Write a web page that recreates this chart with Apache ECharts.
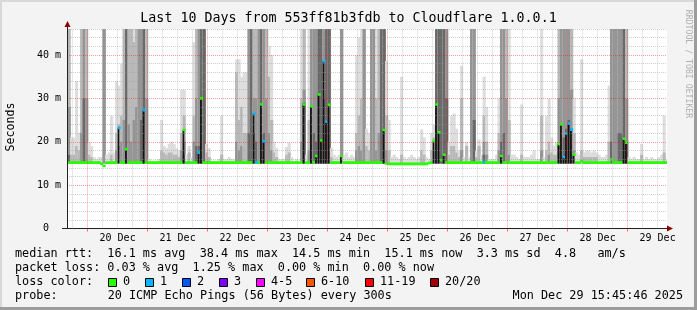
<!DOCTYPE html>
<html><head><meta charset="utf-8">
<script src="https://cdn.jsdelivr.net/npm/echarts@6/dist/echarts.min.js"></script>
<style>html,body{margin:0;padding:0;background:#f3f3f3}#c{width:697px;height:310px}</style>
</head><body><div id="c"></div><script>
// ---------- data (hourly buckets, hours counted from Dec 19 00:00) ----------
const F = 60; // ping above the top of the plot
const END_H = 255.763;            // Mon Dec 29 15:45:46
const START_H = END_H - 240;      // 10 days earlier
const FIRST_BUCKET_H = 16;
const SMOKE_FLOOR = 15.0;

const SMOKE_L = [
 F,21,21,34,22,F,F,F,20,19,
 16.5,16,16.5,16.5,F,17,17.5,26,17.5,34,
 33,38,F,F,F,F,F,F,F,F,
 F,F,16,0,0,0,16,25,19,18.5,
 19.5,20,19.5,18.5,18,32,32,17,19,16.5,
 43,F,F,F,F,19.5,18.5,0,0,0,
 16,26,16,16,16.5,16,16,39,39,35,
 36,36,F,F,F,F,F,F,F,F,
 42,40,20,18.5,16,16,16,18.8,19.8,16.5,
 0,16,0,F,F,17,F,F,F,F,
 F,F,F,F,F,18.6,17,16.5,17,F,
 17,17.5,16.5,17,16.5,40,44,F,F,23,
 22,F,F,F,F,F,F,38.6,25,16.5,
 17,16.5,16,35,16.5,16,16.5,17,16.5,16,
 16.5,22.8,21,16.5,16,22,24,F,F,F,
 F,F,20,26,26.5,23,18,37.5,16.5,20,
 16.5,F,F,18,20.5,17,35,28,16,16,
 16,17,30,F,F,F,F,17,17,16.5,
 16,28.6,16.5,16.5,16.5,17,18,16,16,F,
 16.5,26,30,21,19,20,F,F,F,F,
 F,F,30,17.5,17,39,17.5,18,18,17.5,
 18,17.5,17,16.5,16.5,17,33,F,F,F,
 F,F,F,F,16.5,16,16.5,16,16,19.5,
 16,16.5,16,16.5,16,16,16.5,17,26,16];

const SMOKE_M = [
 F,17,17,19,18,F,F,F,17,16.5,
 0,0,0,0,F,0,0,17,0,22,
 24,26,F,F,F,F,43,F,F,F,
 F,F,0,0,0,0,0,18,17.5,17,
 17.5,17.5,17,17,16.5,22,26,0,17.5,0,
 26,F,F,F,F,17.5,16.5,0,0,0,
 0,17,0,0,0,0,0,36,25,28,
 22,22,F,F,F,F,F,F,F,F,
 35,25,17.5,16.5,0,0,0,17,17.5,0,
 0,0,0,30,F,0,25,F,F,F,
 F,F,F,F,F,16.5,0,0,0,F,
 0,0,0,0,0,22,26,30,F,19,
 18,F,F,30,F,F,F,26,18,0,
 0,0,0,17,0,0,0,0,0,0,
 0,18,17,0,0,18,21,F,F,F,
 F,F,17,19,19,17.5,16.5,30,0,19,
 0,F,F,16.5,19,0,26,20,0,0,
 0,0,22,F,F,F,25,0,0,0,
 0,17,0,0,0,0,0,0,0,26,
 0,18,20,17.5,17,17,F,F,F,F,
 F,F,22,0,0,18,16.5,16.5,16.5,16.5,
 16.5,16.5,0,0,0,0,20,F,F,F,
 F,F,F,F,0,0,0,0,0,17,
 0,0,0,0,0,0,0,0,17.5,0];

const SMOKE_D = [
 28,0,0,0,0,22,F,30,0,0,
 0,0,0,0,F,0,0,0,0,18,
 19,20,25,F,24,20,25,28,F,F,
 F,30,0,0,0,0,0,0,0,0,
 0,0,0,0,0,18,20,0,0,0,
 20,30,F,F,F,0,0,0,0,0,
 0,0,0,0,0,0,0,20,18,19,
 0,0,F,F,30,30,F,F,F,30,
 22,18,0,0,0,0,0,0,0,0,
 0,0,0,20,32,0,18,F,F,F,
 F,F,F,F,F,0,0,0,0,F,
 0,0,0,0,0,18,19,18,F,0,
 0,F,F,18,22,F,F,18,0,0,
 0,0,0,0,0,0,0,0,0,0,
 0,0,0,0,0,0,18,F,F,F,
 F,F,0,0,0,0,0,18,0,0,
 0,F,F,0,0,0,20,17,0,0,
 0,0,18,F,F,30,17,0,0,0,
 0,0,0,0,0,0,0,0,0,18,
 0,0,17,0,0,0,30,F,F,F,
 F,32,18,0,0,0,0,0,0,0,
 0,0,0,0,0,0,0,F,F,F,
 F,F,F,30,0,0,0,0,0,0,
 0,0,0,0,0,0,0,0,0,0];

const SMOKE_K = [
 17,0,0,0,0,0,30,0,0,0,
 0,0,0,0,0,0,0,0,0,0,
 0,0,0,F,0,0,0,0,0,25,
 F,0,0,0,0,0,0,0,0,0,
 0,0,0,0,0,0,17,0,0,0,
 0,19,19,F,F,0,0,0,0,0,
 0,0,0,0,0,0,0,0,0,0,
 0,0,22,F,22,20,0,F,22,0,
 0,0,0,0,0,0,0,0,0,0,
 0,0,0,0,29,0,0,28,22,20,
 F,F,30,F,F,0,0,0,0,0,
 0,0,0,0,0,0,0,0,0,0,
 0,0,0,0,0,F,F,0,0,0,
 0,0,0,0,0,0,0,0,0,0,
 0,0,0,0,0,0,0,F,F,F,
 F,30,0,0,0,0,0,0,0,0,
 0,0,25,0,0,0,17,0,0,0,
 0,0,0,20,22,0,0,0,0,0,
 0,0,0,0,0,0,0,0,0,0,
 0,0,0,0,0,0,19,24,21,23,
 25,23,0,0,0,0,0,0,0,0,
 0,0,0,0,0,0,0,20,0,0,
 22,22,F,20,0,0,0,0,0,0,
 0,0,0,0,0,0,0,0,0,0];

const MEDIAN = [
 15.2,15.2,15.2,15.2,15.2,15.2,15.2,15.2,15.2,15.2,
 15.2,15.2,15.2,14.9,14.4,15.2,15.2,15.2,15.2,15.2,
 23.2,15.2,15.2,18.3,15.2,15.2,15.2,15.2,15.2,15.2,
 27.3,15.2,15.2,15.2,15.2,15.2,15.2,15.2,15.2,15.2,
 15.2,15.2,15.2,15.2,15.2,15.2,22.7,15.2,15.2,15.2,
 15.2,15.2,17.5,30.0,15.2,15.2,15.2,15.2,15.2,15.2,
 15.2,15.2,15.2,15.2,15.2,15.2,15.2,15.2,15.2,15.2,
 15.2,15.2,15.2,15.2,26.5,15.3,15.2,28.6,20.1,15.2,
 15.2,15.2,15.2,15.2,15.2,15.2,15.2,15.2,15.2,15.2,
 15.2,15.2,15.2,15.2,28.6,15.2,15.2,28.2,15.3,16.7,
 30.9,20.3,38.6,24.6,28.5,15.2,15.2,15.2,15.2,16.7,
 15.2,15.2,15.2,15.2,15.2,15.2,15.2,15.2,15.2,15.2,
 15.2,15.2,15.2,15.2,15.2,15.2,22.7,15.0,14.9,14.9,
 14.9,14.9,14.9,14.9,14.9,14.9,14.9,14.9,14.9,14.9,
 14.9,14.9,14.9,14.9,15.1,15.2,20.2,28.6,22.2,15.8,
 17.0,15.2,15.2,15.2,15.2,15.2,15.2,15.2,15.2,15.2,
 15.2,15.2,15.2,15.2,15.2,15.2,15.3,15.2,15.2,15.2,
 15.2,15.2,15.2,16.7,15.2,15.2,15.2,15.2,15.2,15.2,
 15.2,15.2,15.2,15.2,15.2,15.2,15.2,15.2,15.2,15.2,
 15.2,15.2,15.2,15.2,15.2,15.2,19.5,24.0,16.5,21.9,
 24.2,22.8,17.0,15.2,15.2,15.5,15.2,15.2,15.2,15.2,
 15.2,15.2,15.2,15.2,15.2,15.2,15.2,15.9,15.2,15.2,
 15.2,15.2,20.7,19.8,15.2,15.2,15.2,15.2,15.2,15.2,
 15.2,15.2,15.2,15.2,15.2,15.2,15.2,15.2,15.2,15.2];

const LOSS = [
 0,0,0,0,0,0,0,0,0,0, 0,0,0,0,0,0,0,0,0,0,
 1,0,0,0,0,0,0,0,0,0, 1,0,0,0,0,0,0,0,0,0,
 0,0,0,0,0,0,0,0,0,0, 0,0,1,0,0,0,0,0,0,0,
 0,0,0,0,0,0,0,0,0,0, 0,0,0,0,1,1,0,0,1,0,
 0,0,0,0,0,0,0,0,0,0, 0,0,0,0,0,0,0,0,0,0,
 0,0,1,1,0,0,0,0,0,0, 0,0,0,0,0,0,0,0,0,0,
 0,0,0,0,0,0,0,0,0,0, 0,0,0,0,0,0,0,0,0,0,
 0,0,0,0,0,0,0,0,0,0, 0,0,0,0,0,0,0,0,0,0,
 0,0,0,0,0,0,1,0,0,0, 0,0,0,0,0,0,0,0,0,0,
 0,0,0,0,0,0,0,0,0,0, 0,0,0,0,0,0,0,0,1,1,
 1,1,0,0,0,0,0,0,0,0, 0,0,0,0,0,0,0,0,0,0,
 0,0,0,0,0,0,0,0,0,0, 0,0,0,0,0,0,0,0,0,0];

const DAY_LABELS = ['20 Dec','21 Dec','22 Dec','23 Dec','24 Dec','25 Dec','26 Dec','27 Dec','28 Dec','29 Dec'];
const DAY_LABEL_HOURS = [36,60,84,108,132,156,180,204,228,252];
const MIDNIGHT_HOURS = [24,48,72,96,120,144,168,192,216,240];
const Y_TICKS = [0,10,20,30,40];
const Y_TICK_LABELS = ['0  ','10 m','20 m','30 m','40 m'];
const LOSS_NAMES = ['0','1','2','3','4-5','6-10','11-19','20/20'];
const LOSS_COLORS = ['#26ff00','#00b8ff','#0059ff','#7e00ff','#ff00ff','#ff5500','#ff0000','#a10000'];
const STATS_LINES = [
 'median rtt:  16.1 ms avg  38.4 ms max  14.5 ms min  15.1 ms now  3.3 ms sd  4.8   am/s',
 'packet loss: 0.03 % avg  1.25 % max  0.00 % min  0.00 % now'
];
const PROBE_TEXT = '20 ICMP Echo Pings (56 Bytes) every 300s';
const DATE_TEXT = 'Mon Dec 29 15:45:46 2025';
const TITLE = 'Last 10 Days from 553ff81b3fdb to Cloudflare 1.0.0.1';

// ---------- styling ----------
const SMOKE_SHADES = ['#dddddd','#b8b8b8','#949494','#686868'];
const MONO = 'DejaVu Sans Mono';
const LEG_FS = 11.8;
const GRID_TOP = 29, GRID_BOTTOM_Y = 228.5, GRID_LEFT = 67, GRID_RIGHT_X = 667;
const Y_MAX = 46;

const smokeData = SMOKE_L.map((l, i) => [FIRST_BUCKET_H + i, l, SMOKE_M[i], SMOKE_D[i], SMOKE_K[i]]);
const medianData = MEDIAN.map((m, i) => [FIRST_BUCKET_H + i, m, LOSS[i]]);

function renderSmoke(params, api) {
  const h = api.value(0);
  const left = api.coord([h, 0])[0];
  const right = api.coord([h + 1, 0])[0];
  const yBase = api.coord([h, SMOKE_FLOOR])[1];
  const children = [];
  for (let k = 0; k < 4; k++) {
    const v = api.value(k + 1);
    if (!(v > SMOKE_FLOOR)) continue;
    const yTop = api.coord([h, v])[1];
    children.push({type: 'rect', shape: {x: left, y: yTop, width: right - left + 0.6, height: yBase - yTop},
      style: {fill: SMOKE_SHADES[k]}});
  }
  return {type: 'group', children};
}
function renderMedian(params, api) {
  const h = api.value(0), med = api.value(1), loss = api.value(2);
  const left = api.coord([h, 0])[0];
  const right = api.coord([h + 1, 0])[0];
  const y = api.coord([h, med])[1];
  const yBase = api.coord([h, SMOKE_FLOOR])[1];
  const children = [];
  if (med > 16) {
    children.push({type: 'rect', shape: {x: left, y: y, width: 1.7, height: yBase - y}, style: {fill: '#111'}});
  }
  children.push({type: 'rect', shape: {x: left, y: y - 1.3, width: right - left + 0.6, height: 2.6},
    style: {fill: LOSS_COLORS[loss]}});
  return {type: 'group', children};
}

// grid line colours for the 2 ms steps
const yLineColors = [];
for (let v = 0; v <= Y_MAX; v += 2) {
  yLineColors.push(v === 0 ? 'rgba(0,0,0,0)' : (Y_TICKS.indexOf(v) >= 0 ? 'rgba(255,0,0,0.38)' : 'rgba(150,150,150,0.45)'));
}
const vLines = [];
for (let h = 18; h < END_H; h += 6) {
  const major = MIDNIGHT_HOURS.indexOf(h) >= 0;
  vLines.push({xAxis: h, lineStyle: {color: major ? 'rgba(255,0,0,0.38)' : 'rgba(150,150,150,0.45)', type: [1, 1], width: 1}});
}

function txt(text, x, y, opts) {
  opts = opts || {};
  return {type: 'text', x: x, y: y, rotation: opts.rotation || 0, silent: true,
    style: {text: text, fill: opts.fill || '#000', fontFamily: opts.family || MONO, fontSize: opts.size || LEG_FS,
      align: opts.align || 'left', verticalAlign: 'middle', textAlign: opts.align || 'left', textVerticalAlign: 'middle'}};
}

const elements = [
  {type: 'rect', shape: {x: 0, y: 0, width: 697, height: 2}, style: {fill: '#d8d8d8'}},
  {type: 'rect', shape: {x: 0, y: 0, width: 2, height: 310}, style: {fill: '#d8d8d8'}},
  {type: 'rect', shape: {x: 694, y: 0, width: 3, height: 310}, style: {fill: '#9c9c9c'}},
  {type: 'rect', shape: {x: 0, y: 307, width: 697, height: 3}, style: {fill: '#9c9c9c'}},
  // axis extensions & arrows
  {type: 'line', shape: {x1: 62, y1: GRID_BOTTOM_Y, x2: GRID_LEFT, y2: GRID_BOTTOM_Y}, style: {stroke: '#222', lineWidth: 1}},
  {type: 'line', shape: {x1: GRID_LEFT + 0.5, y1: 23, x2: GRID_LEFT + 0.5, y2: GRID_TOP}, style: {stroke: '#222', lineWidth: 1}},
  {type: 'polygon', shape: {points: [[GRID_RIGHT_X, GRID_BOTTOM_Y - 3], [GRID_RIGHT_X + 6, GRID_BOTTOM_Y], [GRID_RIGHT_X, GRID_BOTTOM_Y + 3]]}, style: {fill: '#8b0000'}},
  {type: 'polygon', shape: {points: [[GRID_LEFT - 2.5, 27], [GRID_LEFT + 0.5, 21], [GRID_LEFT + 3.5, 27]]}, style: {fill: '#8b0000'}},
  txt(TITLE, 348.5, 19, {align: 'center', size: 13.3}),
  txt('Seconds', 10.5, 127, {align: 'center', size: 11.6, rotation: Math.PI / 2}),
  txt('RRDTOOL / TOBI OETIKER', 688, 64, {align: 'center', size: 8.2, rotation: -Math.PI / 2, fill: '#b0b0b0'}),
  txt(STATS_LINES[0], 15, 254),
  txt(STATS_LINES[1], 15, 268),
  txt('loss color:', 15, 282),
  txt('probe:', 15, 296),
  txt(PROBE_TEXT, 107.7, 296),
  txt(DATE_TEXT, 683, 296, {align: 'right'})
];
const BOX_X = [108.5, 145.5, 182.5, 219.5, 256.5, 306.5, 365.5, 430.5];
LOSS_NAMES.forEach((name, k) => {
  elements.push({type: 'rect', shape: {x: BOX_X[k], y: 278.5, width: 8, height: 8},
    style: {fill: LOSS_COLORS[k], stroke: '#000', lineWidth: 1}});
  elements.push(txt(name, BOX_X[k] + 14.5, 282));
});

const chart = echarts.init(document.getElementById('c'));
chart.setOption({
  animation: false,
  backgroundColor: '#f3f3f3',
  grid: {left: GRID_LEFT, top: GRID_TOP, right: 697 - GRID_RIGHT_X, bottom: 310 - GRID_BOTTOM_Y,
    show: true, backgroundColor: '#ffffff', borderWidth: 0, containLabel: false},
  xAxis: {
    type: 'value', min: START_H, max: END_H, z: 3,
    axisLine: {show: true, lineStyle: {color: '#222', width: 1}},
    axisTick: {show: true, customValues: MIDNIGHT_HOURS, length: 3, lineStyle: {color: 'rgba(255,0,0,0.55)'}},
    axisLabel: {show: true, customValues: DAY_LABEL_HOURS, margin: 5, color: '#000', fontFamily: MONO, fontSize: 10,
      formatter: v => DAY_LABELS[DAY_LABEL_HOURS.indexOf(v)] || ''},
    splitLine: {show: false}
  },
  yAxis: {
    type: 'value', min: 0, max: Y_MAX, interval: 2, z: 3,
    axisLine: {show: true, lineStyle: {color: '#222', width: 1}},
    axisTick: {show: false},
    axisLabel: {margin: 6, color: '#000', fontFamily: MONO, fontSize: 10,
      formatter: v => { const i = Y_TICKS.indexOf(v); return i >= 0 ? Y_TICK_LABELS[i] : ''; }},
    splitLine: {show: true, lineStyle: {color: yLineColors, type: [1, 1], width: 1}}
  },
  series: [
    {type: 'custom', name: 'smoke', renderItem: renderSmoke, data: smokeData, clip: true, z: 2,
      encode: {x: 0, y: 1}, silent: true},
    {type: 'custom', name: 'median', renderItem: renderMedian, data: medianData, clip: true, z: 2,
      encode: {x: 0, y: 1}, silent: true},
    {type: 'line', name: 'grid', data: [[START_H, 0]], symbol: 'none', lineStyle: {opacity: 0}, z: 4, silent: true,
      markLine: {silent: true, symbol: ['none', 'none'], label: {show: false}, animation: false, data: vLines}}
  ],
  graphic: {elements: elements}
});
</script></body></html>
